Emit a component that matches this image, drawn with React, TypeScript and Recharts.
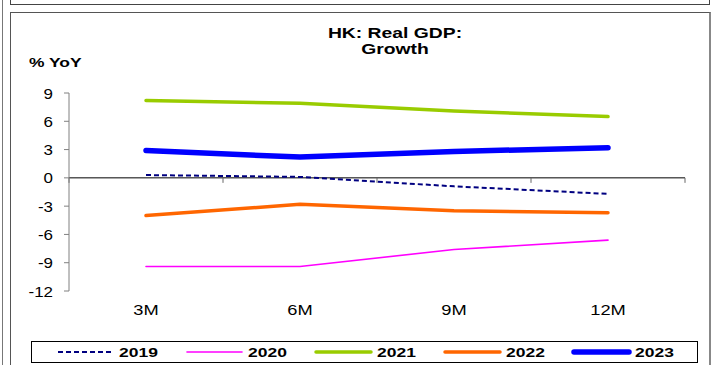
import React from "react";
import { LineChart, Line, XAxis, YAxis, ReferenceLine, Legend } from "recharts";

const periods = ["3M", "6M", "9M", "12M"];
const yoy2019 = [0.3, 0.1, -0.9, -1.7];
const yoy2020 = [-9.4, -9.4, -7.6, -6.6];
const yoy2021 = [8.2, 7.9, 7.1, 6.5];
const yoy2022 = [-4.0, -2.8, -3.5, -3.7];
const yoy2023 = [2.9, 2.2, 2.8, 3.2];
const yTicks = [-12, -9, -6, -3, 0, 3, 6, 9];

const seriesList = [
  { key: "y2019", name: "2019", color: "#000080", width: 2, dash: "5 3", values: yoy2019 },
  { key: "y2020", name: "2020", color: "#FF00FF", width: 1.6, dash: undefined, values: yoy2020 },
  { key: "y2021", name: "2021", color: "#99CC00", width: 3.5, dash: undefined, values: yoy2021 },
  { key: "y2022", name: "2022", color: "#FF6600", width: 3.5, dash: undefined, values: yoy2022 },
  { key: "y2023", name: "2023", color: "#0000FF", width: 5.5, dash: undefined, values: yoy2023 },
];

const data = periods.map((p, i) => {
  const row: Record<string, string | number> = { period: p };
  seriesList.forEach((s) => (row[s.key] = s.values[i]));
  return row;
});

const FONT = "'Liberation Sans', Arial, sans-serif";

const XTick = (props: any) => {
  const { x, y, payload } = props;
  return (
    <g transform={`translate(${x},${y}) scale(1.22,1)`}>
      <text x={0} y={0} dy={16} textAnchor="middle" fontFamily={FONT} fontSize={15} fill="#000">
        {payload.value}
      </text>
    </g>
  );
};

const YTick = (props: any) => {
  const { x, y, payload } = props;
  return (
    <g transform={`translate(${x},${y}) scale(1.13,1)`}>
      <text x={0} y={0} dy={5.5} textAnchor="end" fontFamily={FONT} fontSize={15} fill="#000">
        {payload.value}
      </text>
    </g>
  );
};

// zero line with the category boundary tick marks hanging below it
const ZeroAxis = (props: any) => {
  const { x1, y1, x2, y2 } = props;
  const n = periods.length;
  const step = (x2 - x1) / n;
  return (
    <g>
      <line x1={x1} y1={y1} x2={x2} y2={y2} stroke="#000" strokeWidth={1} />
      {Array.from({ length: n + 1 }, (_, i) => (
        <line key={i} x1={x1 + i * step} y1={y1} x2={x1 + i * step} y2={y1 + 5} stroke="#666" strokeWidth={1} />
      ))}
    </g>
  );
};

const LegendBox = () => (
  <div style={{ width: 667, height: 22, border: "1px solid #000", boxSizing: "border-box", background: "#fff" }}>
    <svg width={665} height={20}>
      {seriesList.map((s, i) => {
        const x = 26 + i * 129;
        return (
          <g key={s.key}>
            <line x1={x} y1={10} x2={x + 55} y2={10} stroke={s.color} strokeWidth={s.width} strokeDasharray={s.dash}
              strokeLinecap={s.dash ? "butt" : "round"} />
            <g transform={`translate(${x + 61},15) scale(1.4,1)`}>
              <text x={0} y={0} fontFamily={FONT} fontWeight="bold" fontSize={12.5} fill="#000">{s.name}</text>
            </g>
          </g>
        );
      })}
    </svg>
  </div>
);

export default function App() {
  return (
    <div style={{ position: "absolute", left: 0, top: 0, width: 712, height: 365, background: "#fff", overflow: "hidden", fontFamily: FONT }}>
      <div style={{ position: "absolute", left: 2, top: 0, width: 1, height: 365, background: "#777" }} />
      <div style={{ position: "absolute", left: 10, top: -2, width: 700, height: 7, border: "1px solid #444", boxSizing: "border-box" }} />
      <div style={{ position: "absolute", left: 10, top: 12, width: 701, height: 360, border: "1px solid #555", borderRightWidth: 2, borderRightColor: "#888", boxSizing: "border-box" }} />
      <div style={{ position: "absolute", left: 295, top: 25, width: 200, textAlign: "center", fontWeight: "bold", fontSize: 14, lineHeight: "16px", transform: "scaleX(1.38)" }}>
        HK: Real GDP:
        <br />
        Growth
      </div>
      <div style={{ position: "absolute", left: 29, top: 55, fontWeight: "bold", fontSize: 13, lineHeight: "16px", transform: "scaleX(1.34)", transformOrigin: "left center" }}>
        % YoY
      </div>
      <LineChart width={712} height={365} data={data} margin={{ top: 93, right: 27, left: 9, bottom: 22 }} style={{ position: "absolute", left: 0, top: 0 }}>
        <XAxis dataKey="period" scale="band" axisLine={false} tickLine={false} tickSize={0} tickMargin={8} height={30} tick={<XTick />} interval={0} />
        <YAxis
          domain={[-12, 9]}
          ticks={yTicks}
          interval={0}
          width={60}
          axisLine={{ stroke: "#808080" }}
          tickLine={{ stroke: "#808080" }}
          tickSize={5}
          tickMargin={11}
          tick={<YTick />}
        />
        <ReferenceLine y={0} shape={<ZeroAxis />} />
        {seriesList.map((s) => (
          <Line
            key={s.key}
            dataKey={s.key}
            name={s.name}
            stroke={s.color}
            strokeWidth={s.width}
            strokeDasharray={s.dash}
            strokeLinecap={s.dash ? "butt" : "round"}
            dot={false}
            activeDot={false}
            isAnimationActive={false}
          />
        ))}
        <Legend content={<LegendBox />} wrapperStyle={{ position: "absolute", left: 31, top: 341, width: 667, height: 22 }} />
      </LineChart>
    </div>
  );
}
